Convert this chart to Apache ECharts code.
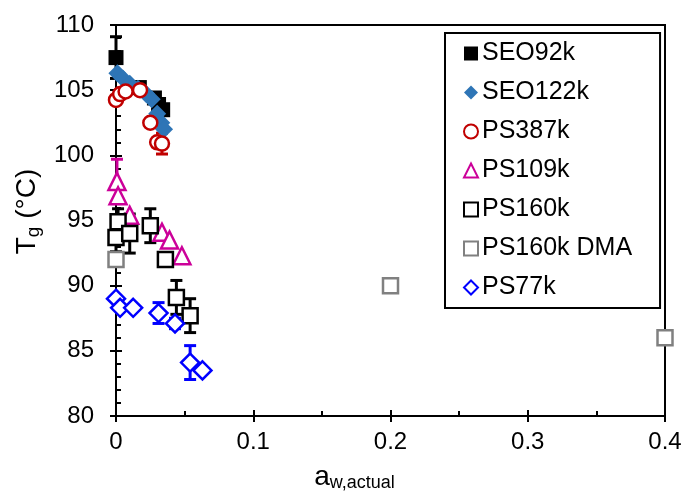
<!DOCTYPE html>
<html><head><meta charset="utf-8">
<script src="https://cdn.jsdelivr.net/npm/echarts@6/dist/echarts.min.js"></script>
<style>html,body{margin:0;padding:0;background:#fff}#c{width:683px;height:493px}</style>
</head><body><div id="c"></div>
<script>
// ---- data ----
const xTicks = [0, 0.1, 0.2, 0.3, 0.4];
const yTicks = [80, 85, 90, 95, 100, 105, 110];

const seo92kX = [0, 0.017, 0.028, 0.031, 0.034];
const seo92kY = [107.5, 105.2, 104.4, 103.9, 103.5];
const seo92kErr = [1.6, 0, 0, 0, 0];

const seo122kX = [0.001, 0.005, 0.010, 0.016, 0.022, 0.026, 0.030, 0.033, 0.035];
const seo122kY = [106.3, 105.9, 105.5, 105.1, 104.7, 104.3, 103.2, 102.5, 102.0];
const seo122kErr = [0, 0, 0, 0, 0, 0, 0, 0, 0];

const ps387kX = [0, 0.003, 0.007, 0.0175, 0.025, 0.030, 0.0335];
const ps387kY = [104.25, 104.7, 104.9, 105.0, 102.5, 101.0, 100.9];
const ps387kErr = [0, 0, 0, 0, 0, 0, 0.8];

const ps109kX = [0.0007, 0.0015, 0.010, 0.0335, 0.039, 0.048];
const ps109kY = [98.0, 96.9, 95.4, 94.1, 93.5, 92.3];
const ps109kErr = [1.7, 0, 0, 0, 0, 0];

const ps160kX = [0.0015, 0, 0.010, 0.025, 0.036, 0.044, 0.054];
const ps160kY = [94.9, 93.7, 94.0, 94.6, 92.0, 89.1, 87.7];
const ps160kErr = [1.0, 1.1, 1.5, 1.3, 0, 1.3, 1.3];

const ps160kDmaX = [0, 0.2, 0.4];
const ps160kDmaY = [92.0, 90.0, 86.0];

const ps77kX = [0, 0.003, 0.0125, 0.031, 0.043, 0.054, 0.063];
const ps77kY = [89.0, 88.3, 88.3, 87.9, 87.1, 84.1, 83.5];
const ps77kErr = [0, 0, 0, 0.8, 0.4, 1.3, 0];

// ---- build ----
function pts(xs, ys) { return xs.map((x, i) => [x, ys[i]]); }
function errPts(xs, ys, es) {
  const out = [];
  xs.forEach((x, i) => { if (es[i] > 0) out.push([x, ys[i], es[i]]); });
  return out;
}
function errSeries(data, color) {
  return {
    type: 'custom', data: data, z: 1, silent: true, legendHoverLink: false,
    renderItem: function (params, api) {
      const x = api.value(0), y = api.value(1), e = api.value(2);
      const top = api.coord([x, y + e]);
      const bot = api.coord([x, y - e]);
      const hw = 6;
      const st = { stroke: color, lineWidth: 3, fill: null };
      return {
        type: 'group', children: [
          { type: 'line', shape: { x1: top[0], y1: top[1], x2: bot[0], y2: bot[1] }, style: st },
          { type: 'line', shape: { x1: top[0] - hw, y1: top[1], x2: top[0] + hw, y2: top[1] }, style: st },
          { type: 'line', shape: { x1: bot[0] - hw, y1: bot[1], x2: bot[0] + hw, y2: bot[1] }, style: st }
        ]
      };
    }
  };
}
function scat(name, data, symbol, size, fill, border, bw) {
  return {
    name: name, type: 'scatter', data: data, symbol: symbol, symbolSize: size, z: 3,
    itemStyle: { color: fill, borderColor: border, borderWidth: bw, opacity: 1 }
  };
}

const fontFam = 'Liberation Sans, Arial, sans-serif';
const black = '#000';

const option = {
  animation: false,
  grid: { left: 116, right: 18, top: 25, bottom: 77, show: true, borderColor: black, borderWidth: 2, containLabel: false, outerBoundsMode: 'none' },
  legend: {
    orient: 'vertical', left: 445, top: 33,
    padding: [8, 28, 8, 18],
    itemWidth: 14, itemHeight: 14, itemGap: 14,
    borderColor: black, borderWidth: 2, backgroundColor: '#fff',
    textStyle: { fontFamily: fontFam, fontSize: 25, color: black, lineHeight: 25, padding: [0, 0, 0, -1] },
    data: ['SEO92k', 'SEO122k', 'PS387k', 'PS109k', 'PS160k', 'PS160k DMA', 'PS77k'],
    z: 10
  },
  xAxis: [{
    type: 'value', min: xTicks[0], max: xTicks[xTicks.length - 1], interval: 0.1,
    axisLine: { show: true, lineStyle: { color: black, width: 2 } },
    axisTick: { show: true, inside: true, length: 6, lineStyle: { color: black, width: 2 } },
    minorTick: { show: true, splitNumber: 2, length: 5, lineStyle: { color: black, width: 2 } },
    splitLine: { show: false },
    axisLabel: { fontFamily: fontFam, fontSize: 24, color: black, margin: 14 },
    name: '{a|a}{b|w,actual}',
    nameLocation: 'middle', nameGap: 46,
    nameTextStyle: {
      padding: [0, 72, 0, 0],
      rich: { a: { fontFamily: fontFam, fontSize: 28, color: black }, b: { fontFamily: fontFam, fontSize: 18, color: black, verticalAlign: 'bottom', padding: [12, 0, 0, 0] } }
    }
  }, {
    type: 'value', position: 'bottom', min: xTicks[0], max: xTicks[xTicks.length - 1], interval: 0.1,
    axisLine: { show: false },
    axisTick: { show: true, inside: false, length: 6, lineStyle: { color: black, width: 2 } },
    splitLine: { show: false }, axisLabel: { show: false }
  }],
  yAxis: [{
    type: 'value', min: yTicks[0], max: yTicks[yTicks.length - 1], interval: 5,
    axisLine: { show: true, lineStyle: { color: black, width: 2 } },
    axisTick: { show: true, inside: true, length: 6, lineStyle: { color: black, width: 2 } },
    minorTick: { show: true, splitNumber: 5, length: 5, lineStyle: { color: black, width: 2 } },
    splitLine: { show: false },
    axisLabel: { fontFamily: fontFam, fontSize: 24, color: black, margin: 22 },
    name: '{a|T}{b|g}{a| (°C)}',
    nameLocation: 'middle', nameGap: 70, nameRotate: 90,
    nameTextStyle: {
      padding: [0, 0, 0, 18],
      rich: { a: { fontFamily: fontFam, fontSize: 28, color: black }, b: { fontFamily: fontFam, fontSize: 19, color: black, verticalAlign: 'bottom', padding: [12, 0, 0, 0] } }
    }
  }, {
    type: 'value', position: 'left', min: yTicks[0], max: yTicks[yTicks.length - 1], interval: 5,
    axisLine: { show: false },
    axisTick: { show: true, inside: false, length: 6, lineStyle: { color: black, width: 2 } },
    splitLine: { show: false }, axisLabel: { show: false }
  }],
  series: [
    errSeries(errPts(seo92kX, seo92kY, seo92kErr), black),
    errSeries(errPts(ps387kX, ps387kY, ps387kErr), '#c00000'),
    errSeries(errPts(ps109kX, ps109kY, ps109kErr), '#cc0099'),
    errSeries(errPts(ps160kX, ps160kY, ps160kErr), black),
    errSeries(errPts(ps77kX, ps77kY, ps77kErr), '#0000ff'),
    scat('SEO92k', pts(seo92kX, seo92kY), 'rect', 15, black, black, 0),
    scat('SEO122k', pts(seo122kX, seo122kY), 'diamond', 18, '#2e75b6', '#2e75b6', 0),
    scat('PS387k', pts(ps387kX, ps387kY), 'circle', 14, '#fff', '#c00000', 2.5),
    scat('PS109k', pts(ps109kX, ps109kY), 'triangle', 17, '#fff', '#cc0099', 2.5),
    scat('PS160k', pts(ps160kX, ps160kY), 'rect', 15, '#fff', black, 2.5),
    scat('PS160k DMA', pts(ps160kDmaX, ps160kDmaY), 'rect', 15, '#fff', '#808080', 2.5),
    scat('PS77k', pts(ps77kX, ps77kY), 'diamond', 18, '#fff', '#0000ff', 2.5)
  ]
};
const chart = echarts.init(document.getElementById('c'), null, { renderer: 'canvas' });
chart.setOption(option);
</script></body></html>
